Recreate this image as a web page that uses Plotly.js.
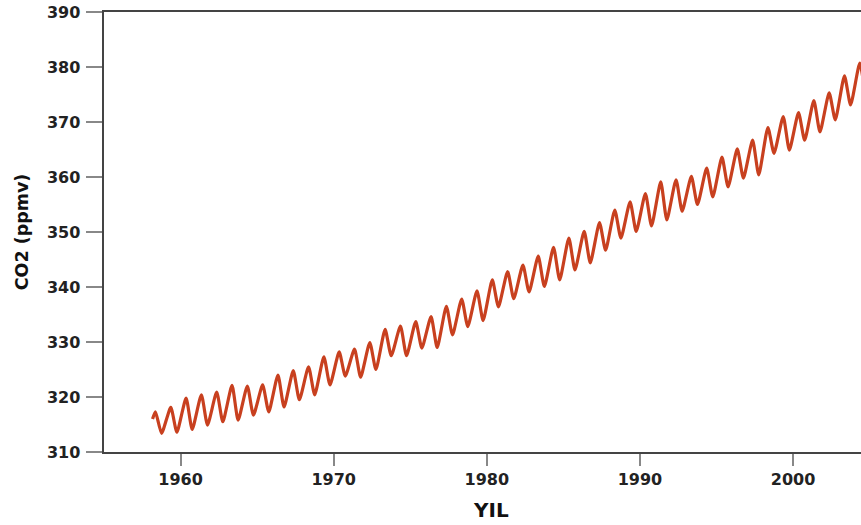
<!DOCTYPE html>
<html>
<head>
<meta charset="utf-8">
<script src="https://cdn.plot.ly/plotly-3.0.1.min.js"></script>
<style>
  html, body { margin: 0; padding: 0; background: #fff; }
  #chart { width: 861px; height: 525px; }
</style>
</head>
<body>
<div id="chart"></div>
<script>
// Years covered by the record
var years = [1958,1959,1960,1961,1962,1963,1964,1965,1966,1967,1968,1969,1970,1971,1972,1973,1974,1975,1976,1977,1978,1979,1980,1981,1982,1983,1984,1985,1986,1987,1988,1989,1990,1991,1992,1993,1994,1995,1996,1997,1998,1999,2000,2001,2002,2003,2004];
// Seasonal maximum (late spring) CO2, ppmv
var peakCO2 = [317.3,318.1,319.8,320.4,320.9,322.1,322.0,322.2,324.0,324.8,325.5,327.3,328.2,328.7,329.9,332.3,332.9,333.7,334.6,336.5,337.8,339.3,341.3,342.8,344.0,345.6,347.2,348.9,350.1,351.7,354.0,355.5,357.0,359.1,359.5,360.1,361.6,363.6,365.1,366.7,369.0,371.0,371.7,373.9,375.3,378.4,380.7];
// Seasonal minimum (autumn) CO2, ppmv
var troughCO2 = [313.4,313.6,314.1,314.9,315.5,315.8,316.7,317.3,318.2,319.5,320.4,322.2,323.8,323.6,325.0,327.5,327.5,328.9,329.0,331.3,332.8,333.9,336.4,337.9,339.1,340.1,341.3,343.1,344.4,346.7,348.9,350.1,351.1,352.2,353.8,355.0,356.4,358.2,359.8,360.4,364.3,364.9,366.7,368.2,370.4,373.1,374.0];
// First measurement of the record
var startTime = 1958.17, startCO2 = 316.0;
var peakOffset = 0.36, troughOffset = 0.76;

var xTickVals = [1960, 1970, 1980, 1990, 2000];
var yTickVals = [310, 320, 330, 340, 350, 360, 370, 380, 390];

var xs = [startTime], ys = [startCO2];
for (var i = 0; i < years.length; i++) {
  xs.push(years[i] + peakOffset); ys.push(peakCO2[i]);
  xs.push(years[i] + troughOffset); ys.push(troughCO2[i]);
}

var tickFont = {family: 'DejaVu Sans, sans-serif', size: 16, weight: 'bold', color: '#222'};

var trace = {
  x: xs, y: ys, type: 'scatter', mode: 'lines',
  line: {color: '#c8401f', width: 3.2, shape: 'spline', smoothing: 0.55},
  hoverinfo: 'x+y'
};

var layout = {
  width: 861, height: 525,
  margin: {l: 104, r: 0, t: 12, b: 73, pad: 0},
  paper_bgcolor: '#fff', plot_bgcolor: '#fff',
  showlegend: false,
  xaxis: {
    range: [1955, 2004.44], tickvals: xTickVals, ticktext: xTickVals.map(String),
    ticks: 'outside', ticklen: 12, tickwidth: 2, tickcolor: '#888',
    showline: true, linecolor: '#444', linewidth: 2, mirror: true,
    showgrid: false, zeroline: false, tickfont: tickFont
  },
  yaxis: {
    range: [310, 390], tickvals: yTickVals, ticktext: yTickVals.map(String),
    ticks: 'outside', ticklen: 16, tickwidth: 2, tickcolor: '#888',
    ticklabelstandoff: 2,
    showline: true, linecolor: '#444', linewidth: 2.5,
    showgrid: false, zeroline: false, tickfont: tickFont,
    title: {text: 'CO2 (ppmv)', standoff: 14,
      font: {family: 'DejaVu Sans, sans-serif', size: 17.5, weight: 'bold', color: '#111'}}
  },
  annotations: [{
    text: 'YIL', xref: 'paper', yref: 'paper', x: 0.511, y: -0.132,
    xanchor: 'center', yanchor: 'middle', showarrow: false,
    font: {family: 'DejaVu Sans, sans-serif', size: 20, weight: 'bold', color: '#111'}
  }]
};

Plotly.newPlot('chart', [trace], layout, {displayModeBar: false, staticPlot: true});
</script>
</body>
</html>
